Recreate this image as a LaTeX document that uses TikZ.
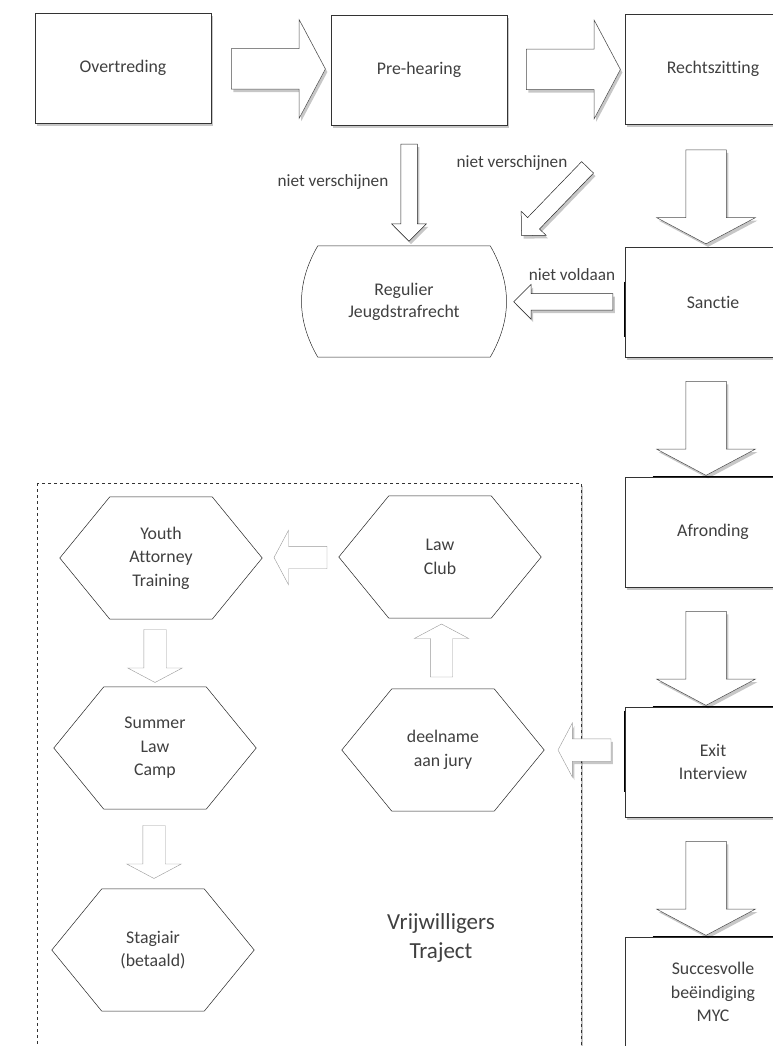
\documentclass[tikz,border=0pt]{standalone}
\usepackage{fontspec}
\setmainfont{Carlito}[Ligatures=NoCommon]
\usetikzlibrary{calc}
\usetikzlibrary{shapes.arrows}
\usetikzlibrary{shadows}

\tikzset{
  schaduw/.style={drop shadow={shadow xshift=2pt, shadow yshift=-3pt, fill=black, opacity=0.22}},
  stap/.style={draw=black!80, fill=white, line width=0.6pt, minimum width=176pt, minimum height=110pt,
    align=center, text=black!75, font=\fontsize{17.8}{23.5}\selectfont, schaduw},
  zeshoek/.style={minimum width=202pt, minimum height=122pt, align=center, text=black!75,
    font=\fontsize{17.8}{23.5}\selectfont},
  zeshoeklijn/.style={draw=black!85, line width=0.5pt},
  blokpijl/.style={single arrow, draw=black!70, fill=white, line width=0.5pt, inner xsep=0pt,
    inner ysep=20pt, single arrow head extend=29pt, single arrow tip angle=124, minimum height=94pt, schaduw},
  smalpijl/.style={blokpijl, draw=black!85, inner ysep=8pt, single arrow head extend=9pt,
    single arrow tip angle=90, minimum height=97pt},
  lichtpijl/.style={single arrow, draw=black!40, fill=white, line width=0.4pt, inner xsep=0pt,
    inner ysep=11pt, single arrow head extend=16pt, single arrow tip angle=124, minimum height=53pt},
  bijschrift/.style={text=black!75, font=\fontsize{17.2}{21}\selectfont},
  randdik/.style={line width=1.3pt, black},
}

\begin{document}
\begin{tikzpicture}[x=1pt, y=-1pt]
    \useasboundingbox (0,0) rectangle (773,1046);
    \clip (0,0) rectangle (773,1046);

    % Vrijwilligers traject (dashed frame)
    \draw[dashed, black!80, line width=0.5pt, fill=white, schaduw] (37,483) rectangle (581,1080);

    % Steps of the procedure
    \node[stap] (ovt) at (123,68) {Overtreding};
    \node[stap] (preh) at (419,70) {Pre-hearing};
    \node[stap] (rz) at (713,69) {Rechtszitting};
    \node[stap] (sa) at (713,302) {Sanctie};
    \node[stap] (af) at (713,532) {Afronding};
    \node[stap] (ex) at (713,762) {Exit\\Interview};
    \node[stap] (sv) at (713,992) {Succesvolle\\beëindiging\\MYC};

    % Thicker edge pieces
    \draw[randdik] ([yshift=-35pt]sa.north west) -- ([yshift=20pt]sa.south west);
    \draw[randdik] ([xshift=28pt]af.north west) -- (af.north east);
    \draw[randdik] ([xshift=28pt]ex.north west) -- (ex.north east);
    \draw[randdik] ([yshift=-4pt]ex.north west) -- ([yshift=25pt]ex.south west);
    \draw[randdik] ([xshift=28pt]sv.north west) -- (sv.north east);

    % Regulier jeugdstrafrecht
    \node[align=center, text=black!75, font=\fontsize{17.8}{22}\selectfont, minimum width=172pt,
      minimum height=111pt] (rj) at (404,301.5) {Regulier\\Jeugdstrafrecht};
    \draw[black!85, line width=0.5pt] (rj.north west) -- (rj.north east) to[bend left=30] (rj.south east)
      -- (rj.south west) to[bend left=30] (rj.north west);

    % Big arrows along the main line
    \node[blokpijl] (p1) at ($(ovt.east)!0.5!(preh.west)+(2,0)$) {};
    \node[blokpijl] (p2) at ($(preh.east)!0.5!(rz.west)+(2,0)$) {};
    \foreach \a/\b in {rz/sa, sa/af, af/ex, ex/sv}
        \node[blokpijl, rotate=-90] (p-\a) at ($(\a.south)!0.5!(\b.north)+(-7,6)$) {};

    % Arrows to regulier jeugdstrafrecht
    \node[smalpijl, rotate=-90] (nv1) at ($(preh.south)!0.5!(rj.north)+(-2.5,3)$) {};
    \node[smalpijl, rotate=226, minimum height=95pt] (nv2) at ($(rz.south west)!0.5!(rj.north east)+(0,13.5)$) {};
    \node[smalpijl, rotate=180, minimum height=99pt] (nvd) at ($(sa.west)!0.5!(rj.east)+(10,0)$) {};
    \node[bijschrift] (l-nv1) at (333,182) {niet verschijnen};
    \node[bijschrift] (l-nv2) at (512,163) {niet verschijnen};
    \node[bijschrift] (l-nvd) at (572,275) {niet voldaan};

    % Hexagons in the traject
    \node[zeshoek] (yat) at (161,558) {Youth\\Attorney\\Training};
    \node[zeshoek] (law) at (440,557) {Law\\Club};
    \node[zeshoek] (slc) at (155,748) {Summer\\Law\\Camp};
    \node[zeshoek] (jury) at (443,750) {deelname\\aan jury};
    \node[zeshoek] (stag) at (153,950) {Stagiair\\(betaald)};
    \foreach \h in {yat,law,slc,jury,stag}
        \draw[zeshoeklijn] (\h.west) -- ([xshift=50pt]\h.north west) -- ([xshift=-50pt]\h.north east)
          -- (\h.east) -- ([xshift=-50pt]\h.south east) -- ([xshift=50pt]\h.south west) -- cycle;

    % Light arrows between the hexagons
    \node[lichtpijl, rotate=180] (q1) at ($(law.west)!0.5!(yat.east)+(3,0)$) {};
    \node[lichtpijl, rotate=-90] (q2) at ($(yat.south)!0.5!(slc.north)+(-3,0)$) {};
    \node[lichtpijl, rotate=-90] (q3) at ($(slc.south)!0.5!(stag.north)$) {};
    \node[lichtpijl, rotate=90] (q4) at ($(jury.north)!0.5!(law.south)$) {};
    \node[lichtpijl, rotate=180, schaduw] (q5) at ($(ex.west)!0.5!(jury.east)+(3,-6)$) {};

    \node[align=center, text=black!75, font=\fontsize{23}{29}\selectfont] (vtl) at (441,938) {Vrijwilligers\\Traject};
\end{tikzpicture}
\end{document}
